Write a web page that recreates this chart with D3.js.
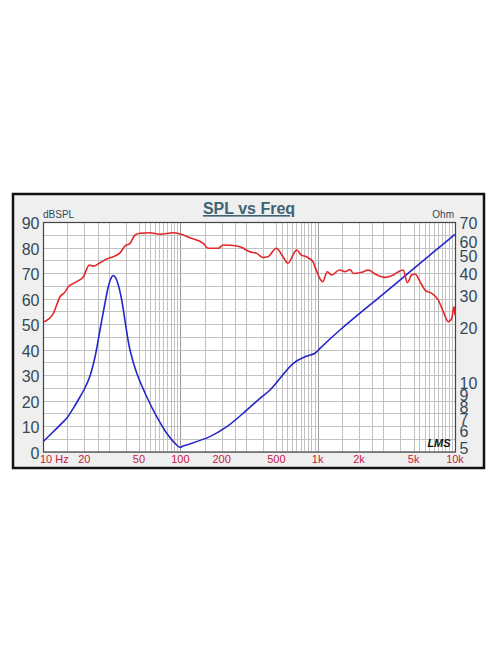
<!DOCTYPE html>
<html>
<head>
<meta charset="utf-8">
<script src="https://cdn.jsdelivr.net/npm/d3@7"></script>
<style>
  html, body { margin: 0; padding: 0; background: #ffffff; }
  svg { display: block; }
  text { font-family: "Liberation Sans", Arial, sans-serif; }
</style>
</head>
<body>
<svg id="chart" width="496" height="664"></svg>
<script>
// ---- data ----
const splFreq = [10.2, 11.9, 13.3, 14.5, 15.3, 17.6, 19.7, 21.7, 23.2, 26.0, 29.1, 32.5, 36.4, 39.5, 43.0, 46.8, 50.9,
  60.1, 71.1, 88.9, 99.5, 120, 147, 159, 178, 189, 205, 235, 278, 320, 360, 400, 435, 500, 559, 608, 681, 704, 760,
  827, 925, 956, 1088, 1176, 1265, 1438, 1581, 1720, 1818, 2093, 2337, 2615, 3093, 3555, 3866, 4204, 4496, 4838,
  5114, 5561, 6048, 6767, 7558, 8220, 8940, 9462, 9835, 10000];
const splDb = [50.9, 54.2, 60.7, 62.6, 64.6, 66.6, 68.5, 73.1, 72.7, 74.0, 75.5, 76.4, 77.9, 80.6, 81.6, 84.9, 85.6,
  85.8, 85.2, 85.8, 85.3, 83.6, 81.6, 79.7, 79.7, 79.7, 81.0, 80.9, 80.1, 78.3, 77.7, 76.1, 76.4, 79.7, 76.4, 73.8, 78.3, 79.0, 77.0,
  76.4, 74.4, 72.4, 66.6, 70.5, 69.2, 71.2, 70.5, 71.4, 69.8, 70.3, 71.2, 69.6, 68.3, 69.2, 70.5, 71.2, 66.2, 69.2,
  69.6, 66.6, 63.3, 62.0, 59.4, 54.8, 50.9, 52.2, 56.8, 53.5];

const zFreq = [10, 11.63, 13.68, 14.88, 16.6, 18.59, 20.2, 21.99, 23.91, 26.0, 28.28, 29.73, 31.01, 32.34, 33.72, 35.17,
  37.42, 40.5, 43.0, 48.1, 56.9, 67.3, 79.6, 94.1, 99.5, 105, 164, 218, 287, 380, 450, 665, 809, 956, 1040, 1454,
  3000, 5000, 10000];
const zOhm = [4.75, 5.31, 6.00, 6.40, 7.26, 8.38, 9.39, 10.93, 13.91, 19.59, 27.58, 33.35, 37.14, 39.07, 38.10, 35.07,
  28.66, 19.59, 15.2, 11.36, 8.41, 6.53, 5.29, 4.56, 4.43, 4.50, 5.07, 5.75, 6.82, 8.24, 9.16, 12.84, 13.96, 14.58, 15.53, 19.59,
  30.9, 42.6, 65.9];

const xTickValues = [10, 20, 50, 100, 200, 500, 1000, 2000, 5000, 10000];
const xTickLabels = ["10 Hz", "20", "50", "100", "200", "500", "1k", "2k", "5k", "10k"];
const dbTicks = [0, 10, 20, 30, 40, 50, 60, 70, 80, 90];
const ohmTicks = [70, 60, 50, 40, 30, 20, 10, 9, 8, 7, 6, 5];
const gridMultipliers = [1, 1.5, 2, 2.5, 3, 4, 5, 5.5, 6, 6.5, 7, 7.5, 8, 8.5, 9, 9.5];
const gridDecades = [10, 100, 1000];
const dbGridStep = 5;

const titleText = "SPL vs Freq";
const leftUnit = "dBSPL";
const rightUnit = "Ohm";
const logoText = "LMS";

// ---- layout ----
const frame = { x: 12, y: 193, w: 473, h: 276 };
const plot = { left: 43, right: 455, top: 222, bottom: 451.5 };

const svg = d3.select("#chart");

const x = d3.scaleLog().domain([10, 10000]).range([plot.left, plot.right]);
const yDb = d3.scaleLinear().domain([0, 90]).range([plot.bottom, plot.top]);
const yOhm = d3.scaleLog().domain([4.2, 77]).range([plot.bottom, plot.top]);

// frame
svg.append("rect")
  .attr("x", frame.x + 1).attr("y", frame.y + 1)
  .attr("width", frame.w - 2).attr("height", frame.h - 2)
  .attr("fill", "#efefef").attr("stroke", "#111").attr("stroke-width", 2.5);

// plot background
svg.append("rect")
  .attr("x", plot.left).attr("y", plot.top)
  .attr("width", plot.right - plot.left).attr("height", plot.bottom - plot.top)
  .attr("fill", "#ffffff");

// grid
const gridFreqs = [];
gridDecades.forEach(d => gridMultipliers.forEach(m => gridFreqs.push(d * m)));
gridFreqs.push(10000);

const grid = svg.append("g");
grid.selectAll("line.v").data(gridFreqs).enter().append("line")
  .attr("x1", d => Math.round(x(d)) + 0.5).attr("x2", d => Math.round(x(d)) + 0.5)
  .attr("y1", plot.top).attr("y2", plot.bottom)
  .attr("stroke", d => (xTickValues.indexOf(d) >= 0 && String(d)[0] === "1") ? "#9a9a9a" : "#c2c2c2")
  .attr("stroke-width", 1);

const dbGrid = d3.range(0, 90 + 0.001, dbGridStep);
grid.selectAll("line.h").data(dbGrid).enter().append("line")
  .attr("x1", plot.left).attr("x2", plot.right)
  .attr("y1", d => Math.round(yDb(d)) + 0.5).attr("y2", d => Math.round(yDb(d)) + 0.5)
  .attr("stroke", "#c2c2c2").attr("stroke-width", 1);

// plot border
svg.append("rect")
  .attr("x", plot.left + 0.5).attr("y", plot.top + 0.5)
  .attr("width", plot.right - plot.left).attr("height", plot.bottom - plot.top)
  .attr("fill", "none").attr("stroke", "#444").attr("stroke-width", 1.2);

// curves
svg.append("clipPath").attr("id", "clip").append("rect")
  .attr("x", plot.left).attr("y", plot.top - 2)
  .attr("width", plot.right - plot.left + 1).attr("height", plot.bottom - plot.top + 2);

const splLine = d3.line().x(d => x(d[0])).y(d => yDb(d[1])).curve(d3.curveMonotoneX);
const zLine = d3.line().x(d => x(d[0])).y(d => yOhm(d[1])).curve(d3.curveCatmullRom.alpha(0.5));

svg.append("path")
  .datum(zFreq.map((f, i) => [f, zOhm[i]]))
  .attr("d", zLine).attr("fill", "none")
  .attr("stroke", "#2626c8").attr("stroke-width", 1.6)
  .attr("clip-path", "url(#clip)");

svg.append("path")
  .datum(splFreq.map((f, i) => [f, splDb[i]]))
  .attr("d", splLine).attr("fill", "none")
  .attr("stroke", "#e5262b").attr("stroke-width", 1.6)
  .attr("clip-path", "url(#clip)");

// title
svg.append("text")
  .attr("x", 249).attr("y", 214)
  .attr("text-anchor", "middle")
  .attr("font-size", 16).attr("font-weight", "bold")
  .attr("fill", "#3d6374")
  .attr("text-decoration", "underline")
  .text(titleText);

// left axis labels
svg.append("g").selectAll("text").data(dbTicks).enter().append("text")
  .attr("x", 39.5).attr("y", d => yDb(d) + 7)
  .attr("text-anchor", "end").attr("font-size", 16)
  .attr("fill", "#34495a")
  .text(d => d);

// right axis labels: positioned from the scale, crowded ones pushed apart,
// the end labels sit at the ends of the axis
const ohmLabelY = [];
ohmTicks.forEach((v, i) => {
  let yy = yOhm(v);
  if (i > 0) yy = Math.max(yy, ohmLabelY[i - 1] + 12);
  ohmLabelY.push(yy);
});
ohmLabelY[0] = plot.top + 1;
ohmLabelY[ohmLabelY.length - 1] = plot.bottom - 3.5;
svg.append("g").selectAll("text").data(ohmTicks).enter().append("text")
  .attr("x", 459.5).attr("y", (d, i) => ohmLabelY[i] + 6)
  .attr("text-anchor", "start").attr("font-size", 16)
  .attr("fill", "#34495a")
  .text(d => d);

// unit labels
svg.append("text").attr("x", 43).attr("y", 218)
  .attr("font-size", 10).attr("fill", "#34495a").text(leftUnit);
svg.append("text").attr("x", 454).attr("y", 218)
  .attr("text-anchor", "end")
  .attr("font-size", 10).attr("fill", "#34495a").text(rightUnit);

// bottom labels
svg.append("g").selectAll("text").data(xTickValues).enter().append("text")
  .attr("x", (d, i) => i === 0 ? x(d) - 3 : x(d))
  .attr("y", 463)
  .attr("text-anchor", (d, i) => i === 0 ? "start" : "middle")
  .attr("font-size", 11)
  .attr("fill", "#c8203c")
  .text((d, i) => xTickLabels[i]);

// logo
svg.append("text").attr("x", 439).attr("y", 447)
  .attr("text-anchor", "middle")
  .attr("font-family", "DejaVu Serif, serif")
  .attr("font-style", "italic").attr("font-weight", "bold")
  .attr("font-size", 11).attr("fill", "#111")
  .text(logoText);
</script>
</body>
</html>
